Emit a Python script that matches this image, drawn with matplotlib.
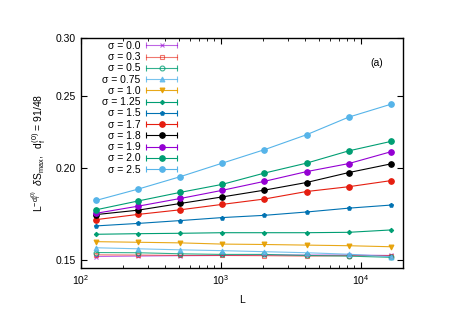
import matplotlib
matplotlib.use("Agg")
import matplotlib.pyplot as plt
from matplotlib.lines import Line2D
from matplotlib.legend_handler import HandlerLine2D, HandlerTuple

plt.rcParams['font.family'] = ['Liberation Sans', 'DejaVu Sans']
plt.rcParams['mathtext.fontset'] = 'custom'
plt.rcParams['mathtext.rm'] = 'Liberation Sans'
plt.rcParams['mathtext.it'] = 'Liberation Sans:italic'
plt.rcParams['mathtext.bf'] = 'Liberation Sans:bold'

L = [128, 256, 512, 1024, 2048, 4096, 8192, 16384]
sigmas = ["0.0", "0.3", "0.5", "0.75", "1.0", "1.25", "1.5", "1.7", "1.8", "1.9", "2.0", "2.5"]

y_s00 = [0.1517, 0.1519, 0.1521, 0.1522, 0.1524, 0.1524, 0.1524, 0.1522]
y_s03 = [0.1525, 0.1524, 0.1522, 0.1522, 0.1521, 0.1519, 0.1521, 0.1521]
y_s05 = [0.1536, 0.1535, 0.1530, 0.1527, 0.1527, 0.1522, 0.1519, 0.1513]
y_s075 = [0.1559, 0.1554, 0.1549, 0.1545, 0.1540, 0.1535, 0.1528, 0.1516]
y_s10 = [0.1589, 0.1586, 0.1583, 0.1577, 0.1575, 0.1572, 0.1569, 0.1564]
y_s125 = [0.1626, 0.1629, 0.1631, 0.1634, 0.1634, 0.1634, 0.1636, 0.1648]
y_s15 = [0.1669, 0.1682, 0.1697, 0.1713, 0.1725, 0.1743, 0.1764, 0.1781]
y_s17 = [0.1702, 0.1730, 0.1755, 0.1785, 0.1815, 0.1858, 0.1886, 0.1922]
y_s18 = [0.1729, 0.1753, 0.1790, 0.1827, 0.1866, 0.1911, 0.1971, 0.2025]
y_s19 = [0.1736, 0.1775, 0.1818, 0.1865, 0.1918, 0.1977, 0.2027, 0.2103]
y_s20 = [0.1755, 0.1804, 0.1853, 0.1900, 0.1968, 0.2030, 0.2109, 0.2172]
y_s25 = [0.1807, 0.1872, 0.1946, 0.2030, 0.2117, 0.2218, 0.2343, 0.2439]

series = [y_s00, y_s03, y_s05, y_s075, y_s10, y_s125, y_s15, y_s17, y_s18, y_s19, y_s20, y_s25]

colors = ['#9400d3', '#e51e10', '#009e73', '#56b4e9', '#e69f00', '#009e73',
          '#0072b2', '#e51e10', '#000000', '#9400d3', '#009e73', '#56b4e9']
alphas = [0.6, 0.6, 0.8, 0.8, 0.9, 1, 1, 1, 1, 1, 1, 1]
markers = ['x', 's', 'o', '^', 'v', 'D', 'p', 'o', 'o', 'o', 'o', 'o']
msizes = [3.5, 3.5, 3.5, 3.5, 3.5, 2.2, 3.0, 4.0, 4.0, 4.0, 4.0, 4.0]
filled = [True, False, False, True, True, True, True, True, True, True, True, True]

fig = plt.figure(figsize=(4.63, 3.27), dpi=100)
ax = fig.add_axes([0.175, 0.180, 0.695, 0.704])

handles = []
hmap = {}
for s, y, c, a, m, ms, f in zip(sigmas, series, colors, alphas, markers, msizes, filled):
    mfc = c if f else 'none'
    ax.plot(L, y, color=c, alpha=a, marker=m, markersize=ms, markerfacecolor=mfc,
            markeredgecolor=c, markeredgewidth=0.8, linewidth=0.8)
    cap = Line2D([], [], color=c, alpha=a, marker='|', markersize=4, linewidth=0.8,
                 markeredgewidth=0.8)
    mk = Line2D([], [], color=c, alpha=a, marker=m, markersize=ms, markerfacecolor=mfc,
                markeredgecolor=c, markeredgewidth=0.8, linestyle='none')
    hmap[cap] = HandlerLine2D(numpoints=2)
    hmap[mk] = HandlerLine2D(numpoints=1)
    handles.append((cap, mk))

hmap[tuple] = HandlerTuple(ndivide=1)
labels = ["σ = " + s for s in sigmas]
leg = ax.legend(handles, labels, handler_map=hmap, loc='upper left',
                bbox_to_anchor=(0.065, 0.987), markerfirst=False, frameon=False,
                fontsize=7.5, labelspacing=0.12, handlelength=3.5, handletextpad=0.28,
                borderaxespad=0.0, borderpad=0.0)
for t in leg.get_texts():
    t.set_ha('right')
leg._legend_box.align = 'right'

ax.set_xscale('log')
ax.set_yscale('log')
ax.set_xlim(100, 20000)
ax.set_ylim(0.1463, 0.30)
ax.set_yticks([0.15, 0.20, 0.25, 0.30])
ax.set_yticklabels(['0.15', '0.20', '0.25', '0.30'])
ax.yaxis.set_minor_locator(matplotlib.ticker.NullLocator())
ax.tick_params(which='both', direction='in', top=True, right=True, labelsize=7.5)
ax.tick_params(which='major', length=4, width=0.8)
ax.tick_params(which='minor', length=2, width=0.6)
for sp in ax.spines.values():
    sp.set_linewidth(1.0)

ax.set_xlabel('L', fontsize=7.5, labelpad=6)
ax.set_ylabel(r'$\mathrm{L}^{-\mathrm{d}_\mathrm{f}^{(0)}}\ \ \delta\mathrm{S}_{\mathrm{max}},\ \ \mathrm{d}_\mathrm{f}^{(0)}$ = 91/48',
              fontsize=7.5, labelpad=6)
ax.text(0.92, 0.89, '(a)', transform=ax.transAxes, fontsize=7.5, ha='center', va='center')

fig.savefig('out.png', dpi=100)
